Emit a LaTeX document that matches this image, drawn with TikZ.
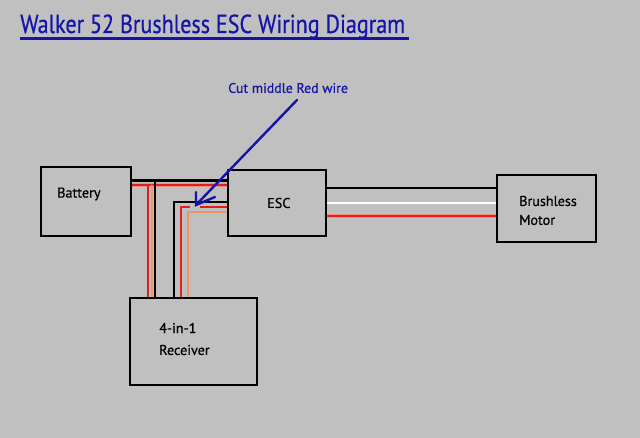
\documentclass[tikz,border=0pt]{standalone}
\usepackage{fontspec}
\setmainfont[FakeBold=0.6]{PT Sans}
\definecolor{bg}{HTML}{C0C0C0}
\definecolor{inkblue}{HTML}{1414A8}
\definecolor{wirered}{HTML}{E01E1E}
\definecolor{halo}{HTML}{EE8F80}
\definecolor{peach}{HTML}{EE9568}
\tikzset{
  x=0.75pt,y=-0.75pt,
  box/.style={draw=black,line width=1.5pt,inner sep=0,rectangle},
  lbl/.style={inner sep=0,anchor=west,font=\fontsize{10.6pt}{15pt}\selectfont,text=black},
  blk/.style={draw=black,line width=1.7pt},
  red wire/.style={draw=wirered,line width=1.7pt},
  halo wire/.style={draw=halo,line width=2.9pt},
  white wire/.style={draw=white,line width=2.2pt},
  peach wire/.style={draw=peach,line width=2.2pt},
  blue line/.style={draw=inkblue,line width=1.8pt,line cap=round},
}
\begin{document}
\begin{tikzpicture}
\useasboundingbox[fill=bg] (0,0) rectangle (640,438);
% boxes
\node[box,minimum width=67.5pt,minimum height=51.75pt] (battery) at (86,201.5) {};
\node[box,minimum width=73.5pt,minimum height=49.5pt] (esc) at (277,203) {};
\node[box,minimum width=74.25pt,minimum height=50.25pt] (motor) at (546.5,208.5) {};
\node[box,minimum width=95.25pt,minimum height=65.25pt] (receiver) at (193.5,341.5) {};
% level coordinates
\coordinate (ytb) at (0,180.5);
\coordinate (ytr) at (0,185);
\coordinate (yib) at (0,202);
\coordinate (yir) at (0,207);
\coordinate (yio) at (0,212);
\coordinate (ymb) at (0,188);
\coordinate (ymw) at (0,203);
\coordinate (ymr) at (0,216);
\coordinate (xvr) at (148,0);
\coordinate (xvo) at (152,0);
\coordinate (xvb) at (155,0);
\coordinate (xib) at (174,0);
\coordinate (xir) at (181,0);
\coordinate (xio) at (188,0);
\coordinate (cutl) at (190,207);
\coordinate (cutr) at (200,207);
% battery - esc
\draw[halo wire] (battery.east|-ytr) -- (esc.west|-ytr);
\draw[blk] (battery.east|-ytb) -- (esc.west|-ytb);
\draw[red wire] (battery.east|-ytr) -- (esc.west|-ytr);
% battery - receiver
\draw[peach wire] (xvo|-ytr) -- (xvo|-receiver.north);
\draw[red wire] (xvr|-ytr) -- (xvr|-receiver.north);
\draw[blk] (xvb|-ytb) -- (xvb|-receiver.north);
% receiver - esc
\draw[blk] (xib|-receiver.north) -- (xib|-yib) -- (esc.west|-yib);
\draw[peach wire] (xio|-receiver.north) -- (xio|-yio) -- (esc.west|-yio);
\draw[red wire] (xir|-receiver.north) -- (xir|-yir) -- (cutl);
\draw[red wire] (cutr) -- (esc.west|-yir);
% esc - motor
\draw[blk] (esc.east|-ymb) -- (motor.west|-ymb);
\draw[white wire] (esc.east|-ymw) -- (motor.west|-ymw);
\draw[halo wire] (esc.east|-ymr) -- (motor.west|-ymr);
\draw[red wire] (esc.east|-ymr) -- (motor.west|-ymr);
% labels
\node[lbl] (tbat) at (57,194) {Battery};
\node[lbl] (tesc) at (267,203) {ESC};
\node[lbl] (tbm) at (519,201) {Brushless};
\node[lbl] (tmm) at (519,220) {Motor};
\node[lbl] (t41) at (159,328) {4-in-1};
\node[lbl] (trc) at (159,350) {Receiver};
\node[inner sep=0,anchor=west,text=inkblue,font=\fontsize{10.4pt}{12pt}\selectfont] (cut) at (228,88) {Cut middle Red wire};
\node[inner sep=0,anchor=base west,text=inkblue,font=\fontsize{19.5pt}{22pt}\selectfont] (title) at (20,33) {\scalebox{.85}[1]{Walker 52 Brushless ESC Wiring Diagram}};
\coordinate (ul) at (20,38.5);
\coordinate (ur) at (409,38.5);
\draw[draw=inkblue,line width=1.8pt] (ul) -- (ur);
% arrow
\coordinate (atail) at (297,100);
\coordinate (atip) at (196,205);
\coordinate (ab1) at (196,192);
\coordinate (ab2) at (215,197);
\draw[blue line] (atail) -- (atip);
\draw[blue line] (ab1) -- (atip) -- (ab2);
\end{tikzpicture}
\end{document}
